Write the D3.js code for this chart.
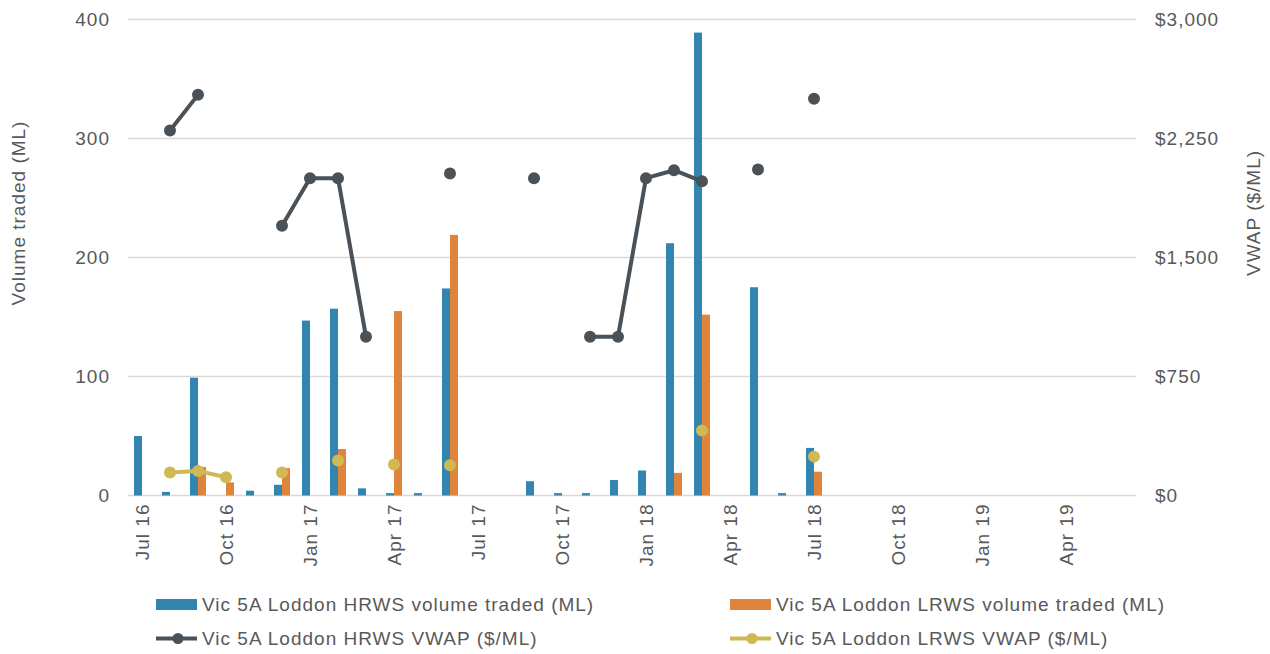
<!DOCTYPE html>
<html>
<head>
<meta charset="utf-8">
<script src="https://cdn.jsdelivr.net/npm/d3@7"></script>
<style>
  html, body { margin: 0; padding: 0; background: #fff; }
  svg text { font-family: "Liberation Sans", Arial, sans-serif; fill: #595959; letter-spacing: 1px; }
</style>
</head>
<body>
<svg id="chart" width="1270" height="654"></svg>
<script>
const months = ["Jul 16","Aug 16","Sep 16","Oct 16","Nov 16","Dec 16","Jan 17","Feb 17","Mar 17","Apr 17","May 17","Jun 17",
                "Jul 17","Aug 17","Sep 17","Oct 17","Nov 17","Dec 17","Jan 18","Feb 18","Mar 18","Apr 18","May 18","Jun 18",
                "Jul 18","Aug 18","Sep 18","Oct 18","Nov 18","Dec 18","Jan 19","Feb 19","Mar 19","Apr 19","May 19","Jun 19"];
const tickLabels = ["Jul 16","Oct 16","Jan 17","Apr 17","Jul 17","Oct 17","Jan 18","Apr 18","Jul 18","Oct 18","Jan 19","Apr 19"];
const hrwsVolume = [50,3,99,0,4,9,147,157,6,2,2,174,0,0,12,2,2,13,21,212,389,0,175,2,40,0,0,0,0,0,0,0,0,0,0,0];
const lrwsVolume = [0,0,24,11,0,23,0,39,0,155,0,219,0,0,0,0,0,0,0,19,152,0,0,0,20,0,0,0,0,0,0,0,0,0,0,0];
const hrwsVwap = [null,2300,2525,null,null,1700,2000,2000,1000,null,null,2030,null,null,2000,null,1000,1000,2000,2050,1980,null,2055,null,2500,
                  null,null,null,null,null,null,null,null,null,null,null];
const lrwsVwap = [null,145,155,115,null,145,null,220,null,195,null,190,null,null,null,null,null,null,null,null,410,null,null,null,245,
                  null,null,null,null,null,null,null,null,null,null,null];
const volTicks = [0,100,200,300,400];
const priceTicks = [0,750,1500,2250,3000];
const seriesNames = ["Vic 5A Loddon HRWS volume traded (ML)","Vic 5A Loddon LRWS volume traded (ML)",
                     "Vic 5A Loddon HRWS VWAP ($/ML)","Vic 5A Loddon LRWS VWAP ($/ML)"];

const C = { blue: "#3185AE", orange: "#DE843B", dark: "#4A5157", yellow: "#D0B852", grid: "#D9D9D9", text: "#595959" };

const svg = d3.select("#chart");
const pLeft = 128, pRight = 1136, pTop = 19.5, pBottom = 495.5;

const x = d3.scaleBand().domain(months).range([pLeft, pRight]).padding(0);
const bw = x.bandwidth();
const x1 = d3.scaleBand().domain(["h","l"]).range([(bw - 16) / 2, (bw + 16) / 2]).padding(0);
const yL = d3.scaleLinear().domain([0, 400]).range([pBottom, pTop]);
const yR = d3.scaleLinear().domain([0, 3000]).range([pBottom, pTop]);

// gridlines
svg.append("g").selectAll("line").data(volTicks).join("line")
  .attr("x1", pLeft).attr("x2", pRight)
  .attr("y1", d => yL(d)).attr("y2", d => yL(d))
  .attr("stroke", C.grid).attr("stroke-width", 1.5);

// left axis labels
const axL = d3.axisLeft(yL).tickValues(volTicks).tickSize(0).tickPadding(0).tickFormat(d3.format("d"));
const gL = svg.append("g").attr("transform", "translate(110,0)").call(axL);
gL.select(".domain").remove();
gL.selectAll("text").attr("font-size", 19).attr("fill", C.text);
gL.attr("font-family", null);

// right axis labels
const axR = d3.axisRight(yR).tickValues(priceTicks).tickSize(0).tickPadding(0)
  .tickFormat(d => "$" + d3.format(",")(d));
const gR = svg.append("g").attr("transform", "translate(1155,0)").call(axR);
gR.select(".domain").remove();
gR.selectAll("text").attr("font-size", 19).attr("fill", C.text);
gR.attr("font-family", null);

// x axis labels
const axB = d3.axisBottom(x).tickValues(tickLabels).tickSize(0).tickPadding(0);
const gB = svg.append("g").attr("transform", `translate(0,${pBottom})`).call(axB);
gB.select(".domain").remove();
gB.attr("font-family", null);
gB.selectAll("text")
  .attr("font-size", 19).attr("fill", C.text)
  .attr("text-anchor", "end")
  .attr("transform", "translate(0,8) rotate(-90)")
  .attr("x", 0).attr("y", 0).attr("dy", "0.35em");

// bars
const barData = months.map((m, i) => ({ m, h: hrwsVolume[i], l: lrwsVolume[i] }));
const gBars = svg.append("g");
gBars.selectAll("rect.h").data(barData).join("rect").attr("class", "h")
  .attr("x", d => x(d.m) + x1("h")).attr("width", x1.bandwidth())
  .attr("y", d => yL(d.h)).attr("height", d => yL(0) - yL(d.h))
  .attr("fill", C.blue);
gBars.selectAll("rect.l").data(barData).join("rect").attr("class", "l")
  .attr("x", d => x(d.m) + x1("l")).attr("width", x1.bandwidth())
  .attr("y", d => yL(d.l)).attr("height", d => yL(0) - yL(d.l))
  .attr("fill", C.orange);

// lines
function drawLine(vals, color) {
  const pts = months.map((m, i) => ({ m, v: vals[i] }));
  const line = d3.line().defined(d => d.v !== null)
    .x(d => x(d.m) + bw / 2).y(d => yR(d.v));
  const g = svg.append("g");
  g.append("path").datum(pts).attr("d", line)
    .attr("fill", "none").attr("stroke", color).attr("stroke-width", 4).attr("stroke-linejoin", "round");
  g.selectAll("circle").data(pts.filter(d => d.v !== null)).join("circle")
    .attr("cx", d => x(d.m) + bw / 2).attr("cy", d => yR(d.v)).attr("r", 6)
    .attr("fill", color);
}
drawLine(hrwsVwap, C.dark);
drawLine(lrwsVwap, C.yellow);

// axis titles
svg.append("text").attr("transform", "translate(25,213) rotate(-90)")
  .attr("text-anchor", "middle").attr("font-size", 19).text("Volume traded (ML)");
svg.append("text").attr("transform", "translate(1260,213) rotate(-90)")
  .attr("text-anchor", "middle").attr("font-size", 19).text("VWAP ($/ML)");

// legend
const legendItems = [
  { name: seriesNames[0], type: "rect", color: C.blue, x: 156, y: 604.5 },
  { name: seriesNames[1], type: "rect", color: C.orange, x: 730, y: 604.5 },
  { name: seriesNames[2], type: "line", color: C.dark, x: 156, y: 638.5 },
  { name: seriesNames[3], type: "line", color: C.yellow, x: 730, y: 638.5 }
];
const gLeg = svg.append("g");
legendItems.forEach(it => {
  const g = gLeg.append("g").attr("transform", `translate(${it.x},${it.y})`);
  if (it.type === "rect") {
    g.append("rect").attr("x", 0).attr("y", -5.5).attr("width", 41).attr("height", 11).attr("fill", it.color);
  } else {
    g.append("line").attr("x1", 0).attr("x2", 41).attr("y1", 0).attr("y2", 0)
      .attr("stroke", it.color).attr("stroke-width", 4);
    g.append("circle").attr("cx", 22).attr("cy", 0).attr("r", 5.5).attr("fill", it.color);
  }
  g.append("text").attr("x", 46).attr("y", 0).attr("dy", "0.35em").attr("font-size", 19).text(it.name);
});
</script>
</body>
</html>
